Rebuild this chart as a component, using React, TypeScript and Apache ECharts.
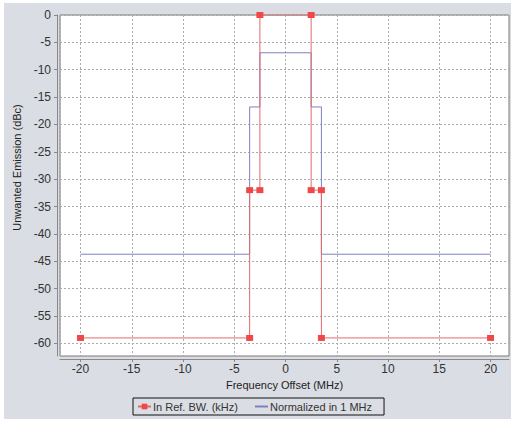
import React, { useEffect, useRef } from "react";
import * as echarts from "echarts";

const redName = "In Ref. BW. (kHz)";
const blueName = "Normalized in 1 MHz";
const redX = [-20, -3.5, -3.5, -2.5, -2.5, 2.5, 2.5, 3.5, 3.5, 20];
const redY = [-59, -59, -32, -32, 0, 0, -32, -32, -59, -59];
const blueX = [-20, -3.5, -3.5, -2.5, -2.5, 2.5, 2.5, 3.5, 3.5, 20];
const blueY = [-43.7, -43.7, -16.8, -16.8, -6.9, -6.9, -16.8, -16.8, -43.7, -43.7];
const xAxisName = "Frequency Offset (MHz)";
const yAxisName = "Unwanted Emission (dBc)";

const FONT = "Liberation Sans";

export default function App() {
  const ref = useRef<HTMLDivElement>(null);
  useEffect(() => {
    if (!ref.current) return;
    const chart = echarts.init(ref.current, null, { renderer: "svg" });
    const redData = redX.map((x, i) => [x, redY[i]]);
    const blueData = blueX.map((x, i) => [x, blueY[i]]);
    const axisLabelStyle = { color: "#333", fontFamily: FONT, fontSize: 12 };
    chart.setOption({
      animation: false,
      backgroundColor: "#ffffff",
      graphic: [
        {
          type: "rect",
          z: -10,
          silent: true,
          shape: { x: 4, y: 3, width: 507, height: 416 },
          style: { fill: "#dadde3" },
        },
      ],
      grid: {
        left: 60,
        right: 3,
        top: 15,
        bottom: 65,
        show: true,
        backgroundColor: "#ffffff",
        borderColor: "#7a7a7a",
        borderWidth: 1,
      },
      xAxis: {
        type: "value",
        min: -22,
        max: 21.8,
        splitNumber: 8,
        offset: 3,
        name: xAxisName,
        nameLocation: "middle",
        nameGap: 18,
        nameTextStyle: { color: "#222", fontFamily: FONT, fontSize: 11, verticalAlign: "top" },
        axisLine: { show: true, onZero: false, lineStyle: { color: "#888", width: 1 } },
        axisTick: { show: true, length: 3, lineStyle: { color: "#888" } },
        axisLabel: { ...axisLabelStyle, margin: 4, showMinLabel: false, showMaxLabel: false },
        splitLine: { show: true, lineStyle: { color: "#aaaaaa", type: [2, 2], width: 1 } },
      },
      yAxis: {
        type: "value",
        min: -62.3,
        max: 0,
        splitNumber: 12,
        offset: 3,
        name: yAxisName,
        nameLocation: "middle",
        nameGap: 29,
        nameRotate: 90,
        nameTextStyle: { color: "#222", fontFamily: FONT, fontSize: 11, padding: [0, 0, 0, 36] },
        axisLine: { show: true, onZero: false, lineStyle: { color: "#888", width: 1 } },
        axisTick: { show: true, length: 3, lineStyle: { color: "#888" } },
        axisLabel: { ...axisLabelStyle, margin: 6, showMinLabel: false },
        splitLine: { show: true, lineStyle: { color: "#aaaaaa", type: [2, 2], width: 1 } },
      },
      legend: {
        data: [redName, { name: blueName, itemStyle: { opacity: 0 } }],
        left: 133,
        top: 398,
        orient: "horizontal",
        borderColor: "#111",
        borderWidth: 1,
        backgroundColor: "#dadde3",
        padding: [3, 12, 3, 4],
        itemGap: 16,
        itemWidth: 13,
        itemHeight: 7,
        textStyle: { color: "#333", fontFamily: FONT, fontSize: 11, padding: [0, 0, 0, -3] },
      },
      series: [
        {
          name: redName,
          type: "line",
          data: redData,
          z: 3,
          symbol: "rect",
          symbolSize: [7, 6],
          showAllSymbol: true,
          itemStyle: { color: "#f04848" },
          lineStyle: { color: "#e06a6a", width: 1 },
          clip: true,
        },
        {
          name: blueName,
          type: "line",
          data: blueData,
          z: 2,
          symbol: "none",
          itemStyle: { color: "#7c80bf" },
          lineStyle: { color: "#7c80bf", width: 1 },
        },
      ],
    });
    return () => chart.dispose();
  }, []);
  return (
    <div
      ref={ref}
      style={{ position: "fixed", left: 0, top: 0, width: 512, height: 421 }}
    />
  );
}
